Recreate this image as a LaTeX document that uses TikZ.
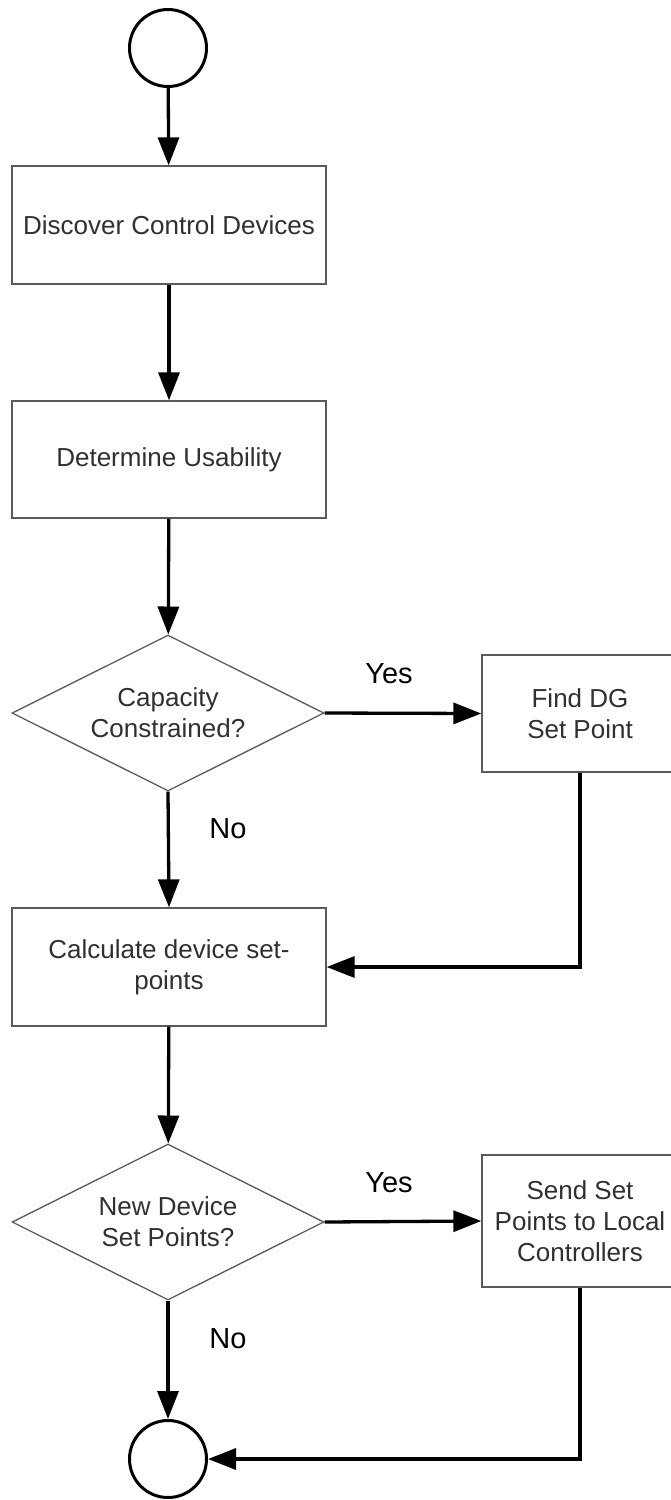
\documentclass[tikz,border=0pt]{standalone}
\usepackage{fontspec}
\setmainfont{Liberation Sans}
\usetikzlibrary{shapes.geometric,arrows.meta}
\definecolor{boxline}{HTML}{5A5A5A}
\definecolor{boxtext}{HTML}{303030}
\tikzset{
  terminal/.style={circle,draw=black,line width=3pt,minimum size=77pt,inner sep=0pt},
  process/.style={rectangle,draw=boxline,line width=1.3pt,fill=white,text=boxtext,
    font=\fontsize{26}{31}\selectfont,align=center,inner sep=0pt},
  decision/.style={diamond,draw=boxline,line width=1.3pt,fill=white,text=boxtext,
    font=\fontsize{26}{31}\selectfont,align=center,inner sep=0pt,shape aspect=2,
    minimum width=312pt,minimum height=156pt},
  flow/.style={line width=3.3pt,-{Triangle[length=28pt,width=21pt]}},
  branch/.style={font=\fontsize{29}{34}\selectfont,text=black,anchor=base,inner sep=0pt}
}
\begin{document}
\begin{tikzpicture}[x=1pt,y=-1pt]
  \useasboundingbox (0,0) rectangle (671,1500);
  \begin{scope}
    \clip (0,0) rectangle (671,1500);

    % steps of the procedure
    \node[terminal] (start) at (168,48) {};
    \node[process,minimum width=314pt,minimum height=118pt] (discover) at (169,225)
      {Discover Control Devices};
    \node[process,minimum width=314pt,minimum height=117pt] (usability) at (169,459.5)
      {Determine Usability};
    \node[decision] (capacity) at (168,713) {Capacity\\Constrained?};
    \node[process,minimum width=196pt,minimum height=117pt] (finddg) at (580,713.5)
      {Find DG\\Set Point};
    \node[process,minimum width=314pt,minimum height=118pt] (calc) at (169,967)
      {Calculate device set-\\points};
    \node[decision] (newset) at (168,1222) {New Device\\Set Points?};
    \node[process,minimum width=196pt,minimum height=132pt] (send) at (580,1221)
      {Send Set\\Points to Local\\Controllers};
    \node[terminal] (stop) at (168,1459) {};

    % branch labels
    \node[branch] (yes1) at (389,683) {Yes};
    \node[branch] (no1) at (228,838) {No};
    \node[branch] (yes2) at (389,1192) {Yes};
    \node[branch] (no2) at (228,1348) {No};

    % connectors
    \draw[flow] (start) -- (discover);
    \draw[flow] (discover) -- (usability);
    \draw[flow] (usability) -- (capacity);
    \draw[flow] (capacity.east) -- (finddg.west);
    \draw[flow] (capacity.south) -- (calc.north);
    \draw[flow] (finddg.south) |- (calc.east);
    \draw[flow] (calc) -- (newset);
    \draw[flow] (newset.east) -- (send.west);
    \draw[flow] (newset.south) -- (stop.north);
    \draw[flow] (send.south) |- (stop.east);
  \end{scope}
\end{tikzpicture}
\end{document}
